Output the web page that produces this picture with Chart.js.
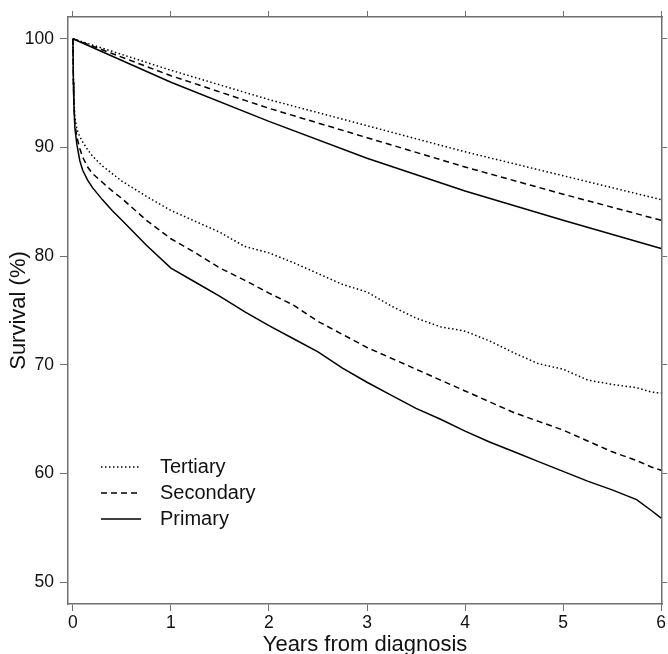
<!DOCTYPE html>
<html>
<head>
<meta charset="utf-8">
<script src="https://cdn.jsdelivr.net/npm/chart.js@4"></script>
<style>
  body { margin: 0; background: #fff; }
  #wrap { width: 668px; height: 654px; }
</style>
</head>
<body>
<div id="wrap"><canvas id="grafica" width="668" height="654"></canvas></div>
<script>
const groups = ['Tertiary', 'Secondary', 'Primary'];

// observed (Kaplan-Meier style) curves
const obsYears = [0, 0.005, 0.01, 0.02, 0.04, 0.07, 0.1, 0.15, 0.2, 0.3, 0.4, 0.5, 0.75,
  1, 1.25, 1.5, 1.75, 2, 2.25, 2.5, 2.75, 3, 3.25, 3.5, 3.75, 4, 4.25, 4.5, 4.75,
  5, 5.25, 5.5, 5.75, 5.9, 6];
const obsTertiary = [100, 96.5, 94.5, 92.8, 91.7, 91.0, 90.5, 89.8, 89.2, 88.3, 87.6, 86.9, 85.5,
  84.2, 83.2, 82.2, 80.9, 80.3, 79.4, 78.4, 77.4, 76.7, 75.4, 74.3, 73.5, 73.1, 72.2, 71.1, 70.1,
  69.6, 68.6, 68.2, 67.9, 67.5, 67.4];
const obsSecondary = [100, 96, 94, 92.2, 91.0, 89.9, 89.1, 88.2, 87.6, 86.8, 86.0, 85.3, 83.3,
  81.6, 80.3, 78.9, 77.8, 76.6, 75.5, 74.0, 72.8, 71.6, 70.6, 69.6, 68.6, 67.6, 66.6, 65.6, 64.8,
  64.0, 63.0, 62.0, 61.2, 60.6, 60.3];
const obsPrimary = [100, 96, 94, 91.8, 90.3, 88.8, 87.9, 87.0, 86.3, 85.2, 84.2, 83.3, 81.0,
  78.9, 77.6, 76.3, 74.9, 73.6, 72.4, 71.2, 69.7, 68.4, 67.2, 66.0, 65.0, 63.9, 62.9, 62.0, 61.1,
  60.2, 59.3, 58.5, 57.6, 56.6, 55.9];

// expected curves
const expYears = [0, 1, 2, 3, 4, 5, 6];
const expTertiary = [100, 97.1, 94.4, 92.0, 89.6, 87.4, 85.2];
const expSecondary = [100, 96.6, 93.6, 90.9, 88.2, 85.7, 83.3];
const expPrimary = [100, 96.0, 92.4, 89.0, 86.0, 83.3, 80.7];

const xTicks = [0, 1, 2, 3, 4, 5, 6];
const yTicks = [50, 60, 70, 80, 90, 100];

const FONT = "'Liberation Sans', Arial, sans-serif";
const AXIS = '#707070';
const dashes = { Tertiary: [1.5, 2.5], Secondary: [6, 4], Primary: [] };

const toPts = (xs, ys) => xs.map((x, i) => ({ x, y: ys[i] }));

const mkSet = (label, pts) => ({
  label,
  data: pts,
  borderColor: '#000',
  borderWidth: 1.5,
  borderDash: dashes[label],
  pointRadius: 0,
  fill: false,
  tension: 0,
});

const datasets = [
  mkSet('Tertiary', toPts(obsYears, obsTertiary)),
  mkSet('Secondary', toPts(obsYears, obsSecondary)),
  mkSet('Primary', toPts(obsYears, obsPrimary)),
  mkSet('Tertiary', toPts(expYears, expTertiary)),
  mkSet('Secondary', toPts(expYears, expSecondary)),
  mkSet('Primary', toPts(expYears, expPrimary)),
];

// legend inside plot, bottom-left
const legendInside = {
  id: 'legendInside',
  afterDraw(chart) {
    const { ctx } = chart;
    ctx.save();
    ctx.font = `20px ${FONT}`;
    ctx.textBaseline = 'middle';
    ctx.fillStyle = '#111';
    groups.forEach((g, i) => {
      const y = 467 + i * 26;
      ctx.beginPath();
      ctx.setLineDash(dashes[g]);
      ctx.lineWidth = 1.5;
      ctx.strokeStyle = '#000';
      ctx.moveTo(101, y);
      ctx.lineTo(141, y);
      ctx.stroke();
      ctx.setLineDash([]);
      ctx.fillText(g, 160, y);
    });
    ctx.restore();
  },
};

const setTicks = (vals) => (axis) => {
  axis.ticks = vals.map((v) => ({ value: v }));
};

const gridOpts = (len) => ({
  drawOnChartArea: false,
  drawTicks: true,
  tickLength: len,
  color: AXIS,
  lineWidth: 1,
});

// eslint-disable-next-line no-new, no-undef
new Chart(document.querySelector('#grafica'), {
  type: 'line',
  data: { datasets },
  options: {
    responsive: false,
    animation: false,
    devicePixelRatio: 1,
    layout: { padding: 0 },
    plugins: { legend: { display: false }, tooltip: { enabled: false } },
    scales: {
      x: {
        type: 'linear',
        position: 'bottom',
        min: -0.05,
        max: 6.01,
        afterBuildTicks: setTicks(xTicks),
        afterFit: (s) => { s.height = 50; },
        grid: gridOpts(7),
        border: { display: true, color: AXIS, width: 1.5 },
        ticks: { font: { family: FONT, size: 17.5 }, color: '#111', padding: 2, maxRotation: 0 },
        title: {
          display: true,
          text: 'Years from diagnosis',
          color: '#111',
          font: { family: FONT, size: 22, lineHeight: 0.8 },
          padding: 0,
        },
      },
      xTop: {
        type: 'linear',
        position: 'top',
        min: -0.05,
        max: 6.01,
        afterBuildTicks: setTicks(xTicks),
        afterFit: (s) => { s.height = 17; },
        grid: gridOpts(6),
        border: { display: true, color: AXIS, width: 1.5 },
        ticks: { display: false },
      },
      y: {
        type: 'linear',
        position: 'left',
        min: 48,
        max: 102,
        afterBuildTicks: setTicks(yTicks),
        afterFit: (s) => { s.width = 68; },
        grid: gridOpts(8),
        border: { display: true, color: AXIS, width: 1.5 },
        ticks: { font: { family: FONT, size: 17.5 }, color: '#111', padding: 6 },
        title: {
          display: true,
          text: 'Survival (%)',
          color: '#111',
          font: { family: FONT, size: 22 },
          padding: { top: 6, bottom: 0 },
        },
      },
      yRight: {
        type: 'linear',
        position: 'right',
        min: 48,
        max: 102,
        afterBuildTicks: setTicks(yTicks),
        afterFit: (s) => { s.width = 5; },
        grid: gridOpts(5),
        border: { display: true, color: AXIS, width: 1.5 },
        ticks: { display: false },
      },
    },
  },
  plugins: [legendInside],
});
</script>
</body>
</html>
